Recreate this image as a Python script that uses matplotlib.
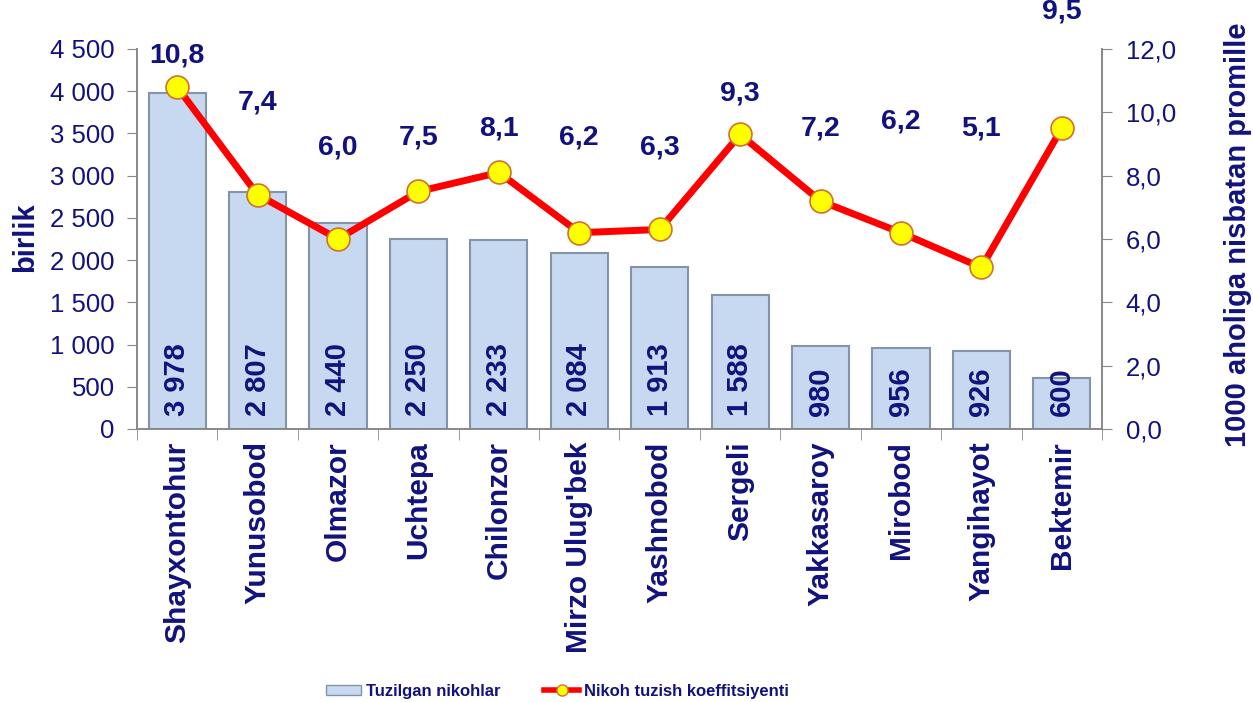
import matplotlib.pyplot as plt
from matplotlib.ticker import FuncFormatter
from matplotlib.lines import Line2D
from matplotlib.patches import Patch

districts = ["Shayxontohur", "Yunusobod", "Olmazor", "Uchtepa", "Chilonzor",
             "Mirzo Ulug'bek", "Yashnobod", "Sergeli", "Yakkasaroy", "Mirobod",
             "Yangihayot", "Bektemir"]
marriages = [3978, 2807, 2440, 2250, 2233, 2084, 1913, 1588, 980, 956, 926, 600]
rate = [10.8, 7.4, 6.0, 7.5, 8.1, 6.2, 6.3, 9.3, 7.2, 6.2, 5.1, 9.5]
# where the rate labels sit (right axis units), as in the original
label_y = [11.8, 10.3, 8.9, 9.2, 9.5, 9.2, 8.9, 10.6, 9.5, 9.7, 9.5, 13.2]

navy = "#12127e"
plt.rcParams['font.family'] = ['Liberation Sans', 'DejaVu Sans']

fig = plt.figure(figsize=(12.53, 7.02), dpi=100)
ax = fig.add_axes([0.1093, 0.3889, 0.7702, 0.5413])
ax2 = ax.twinx()

x = range(len(districts))
ax.bar(x, marriages, width=0.71, color="#c6d9f0", edgecolor="#8494a8", linewidth=1.5, zorder=2)
for i, v in enumerate(marriages):
    s = f"{v:,}".replace(",", " ")
    ax.text(i, 150, s, rotation=90, ha="center", va="bottom", color=navy,
            fontsize=21, fontweight="bold", zorder=3)

ax2.plot(x, rate, color="#ff0000", lw=5, marker="o", ms=16.5, mfc="#ffff00",
         mec="#d07030", mew=1.2, zorder=4)
for i, v in enumerate(rate):
    ax2.text(i, label_y[i], f"{v:.1f}".replace(".", ","), ha="center", va="center",
             color=navy, fontsize=20.5, fontweight="bold", clip_on=False)

ax.set_xlim(-0.5, len(districts) - 0.5)
ax.set_ylim(0, 4500)
ax.set_yticks(range(0, 4501, 500))
ax.yaxis.set_major_formatter(FuncFormatter(lambda v, p: f"{int(v):,}".replace(",", " ")))
ax2.set_ylim(0, 12)
ax2.set_yticks(range(0, 13, 2))
ax2.yaxis.set_major_formatter(FuncFormatter(lambda v, p: f"{v:.1f}".replace(".", ",")))

ax.set_xticks(list(x))
ax.set_xticklabels(districts, rotation=90, fontsize=21.5, fontweight="bold", color=navy)
ax.set_xticks([i - 0.5 for i in range(len(districts) + 1)], minor=True)
ax.tick_params(axis="x", which="major", length=0, pad=9)
ax.tick_params(axis="x", which="minor", length=8, color="#888888")
ax.tick_params(axis="y", labelsize=18.5, labelcolor=navy, color="#888888", length=7, pad=9)
ax2.tick_params(axis="y", labelsize=18.5, labelcolor=navy, color="#888888", length=7, pad=10)

for a in (ax, ax2):
    a.spines["top"].set_visible(False)
    for s in ("left", "right", "bottom"):
        a.spines[s].set_color("#888888")
        a.spines[s].set_linewidth(1.2)

fig.text(0.02, 0.662, "birlik", rotation=90, ha="center", va="center",
         fontsize=21, fontweight="bold", color=navy)
fig.text(0.988, 0.665, "1000 aholiga nisbatan promille", rotation=90, ha="center",
         va="center", fontsize=21, fontweight="bold", color=navy)

handles = [Patch(facecolor="#c6d9f0", edgecolor="#8494a8", label="Tuzilgan nikohlar"),
           Line2D([0], [0], color="#ff0000", lw=4, marker="o", ms=8, mfc="#ffff00",
                  mec="#d07030", label="Nikoh tuzish koeffitsiyenti")]
leg = fig.legend(handles=handles, loc="lower center", bbox_to_anchor=(0.445, -0.017), ncol=2,
                 frameon=False, prop={"weight": "bold", "size": 12}, handlelength=2.1,
                 handleheight=0.6, columnspacing=2.6, handletextpad=0.3)
for t in leg.get_texts():
    t.set_color(navy)

fig.savefig("out.png", dpi=100)
